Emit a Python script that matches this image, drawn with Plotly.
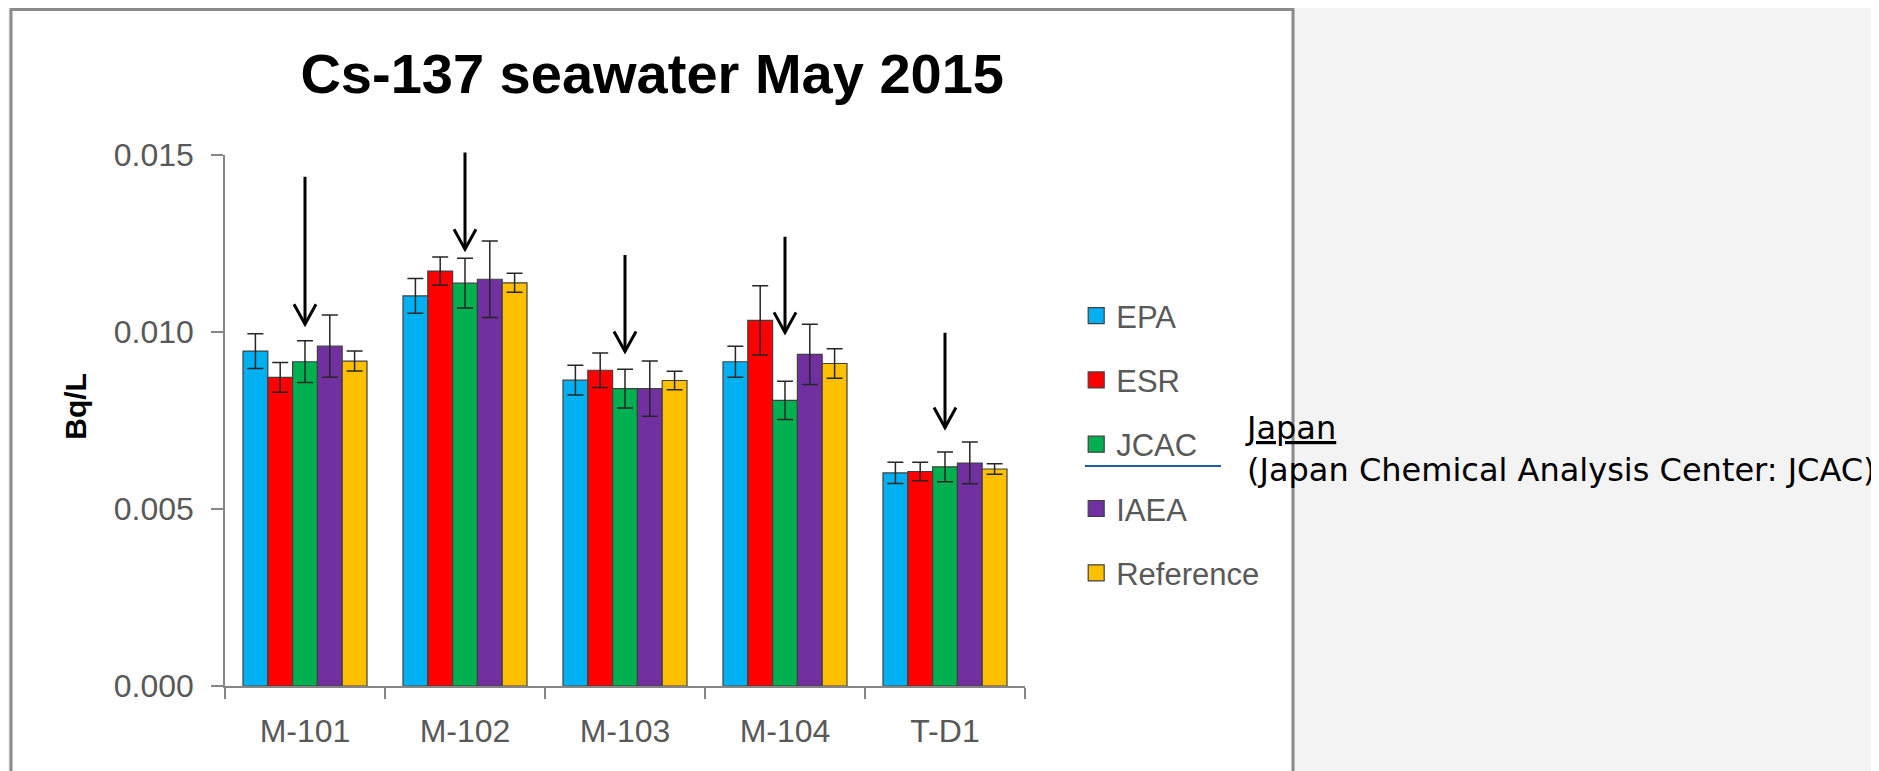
import plotly.graph_objects as go

categories = ["M-101", "M-102", "M-103", "M-104", "T-D1"]

series_names = ["EPA", "ESR", "JCAC", "IAEA", "Reference"]
series_colors = ["#00B0F0", "#FF0000", "#00B050", "#7030A0", "#FFC000"]

EPA = [0.00946, 0.01102, 0.00864, 0.00916, 0.00602]
EPA_err = [0.00049, 0.00049, 0.00042, 0.00044, 0.00030]
ESR = [0.00872, 0.01172, 0.00892, 0.01033, 0.00606]
ESR_err = [0.00042, 0.00040, 0.00049, 0.00098, 0.00026]
JCAC = [0.00916, 0.01138, 0.00840, 0.00807, 0.00619]
JCAC_err = [0.00059, 0.00070, 0.00055, 0.00054, 0.00042]
IAEA = [0.00960, 0.01149, 0.00840, 0.00937, 0.00630]
IAEA_err = [0.00088, 0.00108, 0.00078, 0.00085, 0.00059]
Reference = [0.00918, 0.01139, 0.00863, 0.00911, 0.00613]
Reference_err = [0.00028, 0.00027, 0.00026, 0.00042, 0.00015]

# arrows pointing at the JCAC bars (value at arrow tail and tip)
arrow_top = [0.01443, 0.01511, 0.01222, 0.01273, 0.01002]
arrow_tip = [0.01022, 0.01234, 0.00945, 0.00999, 0.00730]

y_ticks = [0.000, 0.005, 0.010, 0.015]
y_ticklabels = ["0.000", "0.005", "0.010", "0.015"]

values = [EPA, ESR, JCAC, IAEA, Reference]
errors = [EPA_err, ESR_err, JCAC_err, IAEA_err, Reference_err]

TXT = "#595959"
AX = "#868686"
FONT = "Liberation Sans, Arial, sans-serif"

fig = go.Figure()
for name, col, v, e in zip(series_names, series_colors, values, errors):
    fig.add_trace(go.Bar(
        x=categories, y=v, name=name, showlegend=False,
        marker=dict(color=col, line=dict(color="#404040", width=1.2)),
        error_y=dict(type="data", array=e, visible=True, color="#262626",
                     thickness=1.5, width=8),
    ))
# legend entries with larger square swatches
for name, col in zip(series_names, series_colors):
    fig.add_trace(go.Scatter(
        x=[None], y=[None], mode="markers", name=name, legendgroup=name,
        marker=dict(symbol="square", size=16, color=col,
                    line=dict(color="#404040", width=1.2)),
    ))

# arrows
for i, cat in enumerate(categories):
    fig.add_annotation(x=cat, y=arrow_tip[i], ax=cat, ay=arrow_top[i],
                       xref="x", yref="y", axref="x", ayref="y",
                       text="", showarrow=True, arrowhead=0, arrowwidth=3,
                       arrowcolor="black", standoff=0, startstandoff=0)
    fig.add_shape(type="path", xref="x", yref="y",
                  xsizemode="pixel", ysizemode="pixel",
                  xanchor=i, yanchor=arrow_tip[i],
                  path="M -11,20 L 0,0 L 11,20",
                  line=dict(color="black", width=3))

# white chart panel with grey frame
fig.add_shape(type="rect", xref="paper", yref="paper",
              x0=-0.2675, x1=1.335, y0=-0.2, y1=1.274,
              fillcolor="white", line=dict(color="#8a8a8a", width=3),
              layer="below")
# blue connector line
fig.add_shape(type="line", xref="paper", yref="paper",
              x0=1.075, x1=1.245, y0=0.4143, y1=0.4143,
              line=dict(color="#1F5FA0", width=2))

fig.add_annotation(xref="paper", yref="paper", x=1.2725, y=0.446,
                   xanchor="left", yanchor="middle", align="left",
                   showarrow=False,
                   text="<u>Japan</u><br>(Japan Chemical Analysis Center: JCAC)",
                   font=dict(family="DejaVu Sans, Verdana, sans-serif",
                             size=32, color="black"))

# y-axis title
fig.add_annotation(xref="paper", yref="y", x=-0.187, y=0.0079,
                   xanchor="center", yanchor="middle", textangle=-90,
                   showarrow=False, text="<b>Bq/L</b>",
                   font=dict(family=FONT, size=30, color="black"))

fig.update_layout(
    width=1879, height=771,
    margin=dict(l=217, r=862, t=147, b=93),
    paper_bgcolor="#f3f3f3", plot_bgcolor="white",
    barmode="group", bargap=0.225, bargroupgap=0,
    font=dict(family=FONT, color=TXT),
    title=dict(text="<b>Cs-137 seawater May 2015</b>",
               x=0.534, xref="paper", xanchor="center",
               y=1 - 65 / 771, yref="container", yanchor="middle",
               font=dict(family=FONT, size=56, color="black")),
    legend=dict(x=1.064, xanchor="left", y=0.7477, yanchor="top",
                traceorder="grouped", tracegroupgap=21,
                font=dict(size=31, color=TXT), bgcolor="rgba(0,0,0,0)",
                itemsizing="trace"),
    showlegend=True,
)
fig.update_xaxes(
    type="category", range=[-0.5, 4.5], showline=True, linecolor=AX,
    linewidth=1.5, ticks="outside", tickson="boundaries", ticklen=11,
    tickcolor=AX, tickwidth=1.5, showgrid=False, zeroline=False,
    tickfont=dict(size=32, color=TXT), ticklabelstandoff=16,
)
fig.update_yaxes(
    range=[0, 0.015], tickvals=y_ticks, ticktext=y_ticklabels,
    showline=True, linecolor=AX, linewidth=1.5, ticks="outside",
    ticklen=12, tickcolor=AX, tickwidth=1.5, showgrid=False, zeroline=False,
    tickfont=dict(size=32, color=TXT), ticklabelstandoff=11,
)

fig.write_html("out.html")
